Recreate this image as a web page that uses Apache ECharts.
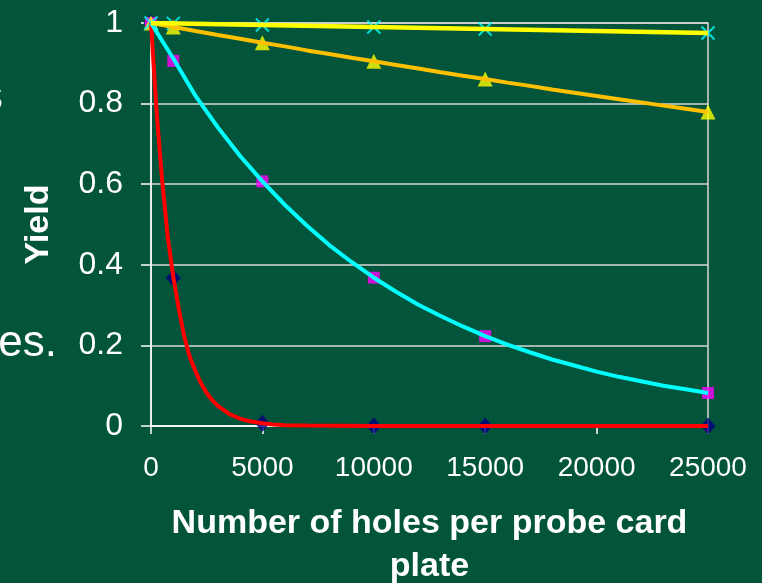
<!DOCTYPE html>
<html>
<head>
<meta charset="utf-8">
<title>Yield vs holes per probe card plate</title>
<script src="https://cdn.jsdelivr.net/npm/echarts@6/dist/echarts.min.js"></script>
<style>
  html, body { margin: 0; padding: 0; background: #02553a; }
  #chart { width: 762px; height: 583px; }
</style>
</head>
<body>
<div id="chart"></div>
<script>
"use strict";

var FONT = '"Liberation Sans", Arial, sans-serif';

// marker positions (holes per plate) and yields
var markerHoles = [0, 1000, 5000, 10000, 15000, 25000];
var diamondYield = [1, 0.367, 0.007, 0, 0, 0];
var squareYield = [1, 0.906, 0.607, 0.368, 0.223, 0.082];
var triangleYield = [1, 0.99, 0.951, 0.905, 0.861, 0.779];
var crossYield = [1, 0.999, 0.995, 0.99, 0.985, 0.975];

// red curve
var redHoles = [0, 250, 500, 750, 1000, 1250, 1500, 1750, 2000, 2250, 2500, 2750, 3000,
	3500, 4000, 4500, 5000, 5500, 6000, 7000, 10000, 15000, 20000, 25000];
var redYield = [1, 0.78, 0.61, 0.47, 0.37, 0.29, 0.22, 0.17, 0.135, 0.105, 0.082, 0.064, 0.05,
	0.03, 0.018, 0.011, 0.007, 0.004, 0.002, 0.001, 0, 0, 0, 0];

// cyan and orange curves, sampled every 1000 holes
var curveHoles = [0, 1000, 2000, 3000, 4000, 5000, 6000, 7000, 8000, 9000, 10000, 11000, 12000,
	13000, 14000, 15000, 16000, 17000, 18000, 19000, 20000, 21000, 22000, 23000, 24000, 25000];
var cyanYield = [1, 0.912, 0.819, 0.741, 0.67, 0.607, 0.549, 0.497, 0.449, 0.407, 0.368, 0.333, 0.301,
	0.273, 0.247, 0.223, 0.202, 0.183, 0.165, 0.15, 0.135, 0.122, 0.111, 0.1, 0.091, 0.082];
var orangeYield = [1, 0.99, 0.98, 0.97, 0.961, 0.951, 0.942, 0.932, 0.923, 0.914, 0.905, 0.896, 0.887,
	0.878, 0.869, 0.861, 0.852, 0.844, 0.835, 0.827, 0.819, 0.811, 0.803, 0.795, 0.787, 0.779];

// yellow curve
var yellowHoles = [0, 5000, 10000, 15000, 20000, 25000];
var yellowYield = [1, 0.995, 0.99, 0.985, 0.98, 0.975];

function pairs(xs, ys) {
	var out = [];
	for (var i = 0; i < xs.length; i++) {
		out.push([xs[i], ys[i]]);
	}
	return out;
}

function lineSeries(xs, ys, color, width) {
	return {
		type: 'line',
		data: pairs(xs, ys),
		showSymbol: false,
		symbol: 'none',
		lineStyle: { color: color, width: width },
		silent: true
	};
}

function markerSeries(ys, symbol, size, itemStyle) {
	return {
		type: 'scatter',
		data: pairs(markerHoles, ys),
		symbol: symbol,
		symbolSize: size,
		itemStyle: itemStyle,
		silent: true
	};
}

var chart = echarts.init(document.getElementById('chart'));

chart.setOption({
	backgroundColor: '#02553a',
	animation: false,
	textStyle: { fontFamily: FONT },
	grid: {
		left: 151,
		right: 54,
		top: 23,
		bottom: 157,
		outerBoundsMode: 'none',
		containLabel: false,
		show: true,
		borderColor: '#d8d8d8',
		borderWidth: 1.5
	},
	xAxis: {
		type: 'value',
		min: 0,
		max: 25000,
		interval: 5000,
		name: 'Number of holes per probe card\nplate',
		nameLocation: 'middle',
		nameGap: 76,
		nameTextStyle: {
			color: '#ffffff',
			fontSize: 34,
			fontWeight: 'bold',
			fontFamily: FONT,
			lineHeight: 43
		},
		axisLine: { show: true, onZero: false, lineStyle: { color: '#ffffff', width: 1.5 } },
		axisTick: { show: true, length: 8, lineStyle: { color: '#ffffff', width: 1.5 } },
		splitLine: { show: false },
		axisLabel: {
			color: '#ffffff',
			fontSize: 28,
			fontFamily: FONT,
			margin: 28,
			formatter: function(v) { return String(v); }
		}
	},
	yAxis: {
		type: 'value',
		min: 0,
		max: 1,
		interval: 0.2,
		name: 'Yield',
		nameLocation: 'middle',
		nameGap: 95,
		nameTextStyle: {
			color: '#ffffff',
			fontSize: 34,
			fontWeight: 'bold',
			fontFamily: FONT
		},
		axisLine: { show: true, onZero: false, lineStyle: { color: '#ffffff', width: 1.5 } },
		axisTick: { show: true, length: 10, lineStyle: { color: '#ffffff', width: 1.5 } },
		splitLine: { show: true, lineStyle: { color: '#d8d8d8', width: 1.5 } },
		axisLabel: {
			color: '#ffffff',
			fontSize: 32,
			fontFamily: FONT,
			margin: 28
		}
	},
	graphic: [
		{
			type: 'text',
			style: {
				text: 'es.',
				x: 57,
				y: 366,
				textAlign: 'right',
				textVerticalAlign: 'bottom',
				font: '44px ' + FONT,
				fill: '#ffffff'
			}
		},
		{
			type: 'text',
			style: {
				text: 's',
				x: 3,
				y: 120,
				textAlign: 'right',
				textVerticalAlign: 'bottom',
				font: '44px ' + FONT,
				fill: '#ffffff'
			}
		}
	],
	series: [
		markerSeries(diamondYield, 'diamond', [15, 17], { color: '#000080' }),
		markerSeries(squareYield, 'rect', 12, { color: '#ff00ff' }),
		lineSeries(redHoles, redYield, '#ff0000', 4),
		lineSeries(curveHoles, cyanYield, '#00ffff', 4),
		lineSeries(curveHoles, orangeYield, '#ffc000', 4),
		lineSeries(yellowHoles, yellowYield, '#ffff00', 4.5),
		markerSeries(triangleYield, 'triangle', 15, { color: '#ffff00' }),
		markerSeries(crossYield, 'path://M0,0L10,10M10,0L0,10', 13, {
			color: 'rgba(0,0,0,0)',
			borderColor: '#00ffff',
			borderWidth: 2
		})
	]
});
</script>
</body>
</html>
